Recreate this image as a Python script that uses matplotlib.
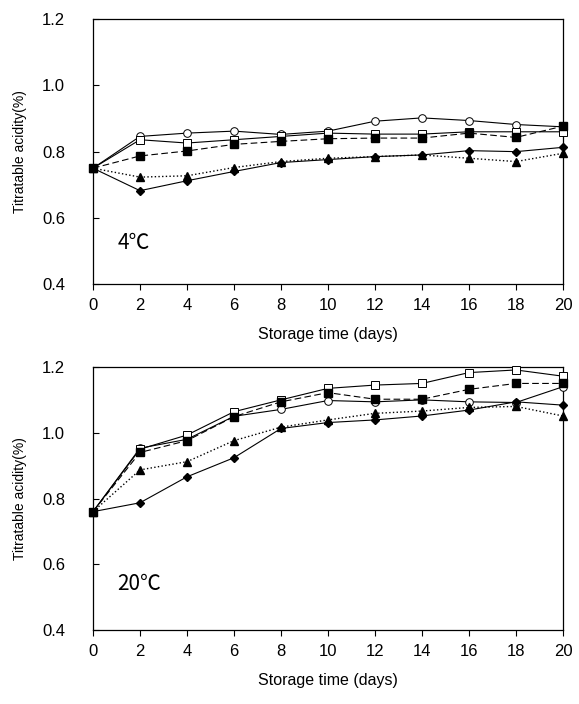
import matplotlib
matplotlib.use("Agg")
import matplotlib.pyplot as plt

days = [0, 2, 4, 6, 8, 10, 12, 14, 16, 18, 20]

# 4 °C
t4_circle = [0.75, 0.846, 0.856, 0.862, 0.852, 0.862, 0.892, 0.902, 0.894, 0.882, 0.875]
t4_osquare = [0.75, 0.836, 0.826, 0.836, 0.846, 0.856, 0.853, 0.853, 0.860, 0.860, 0.860]
t4_fsquare = [0.75, 0.787, 0.802, 0.822, 0.831, 0.839, 0.841, 0.841, 0.856, 0.843, 0.877]
t4_triangle = [0.75, 0.723, 0.727, 0.752, 0.770, 0.780, 0.785, 0.790, 0.780, 0.770, 0.795]
t4_diamond = [0.75, 0.682, 0.712, 0.740, 0.767, 0.776, 0.785, 0.790, 0.803, 0.800, 0.813]

# 20 °C
t20_circle = [0.76, 0.953, 0.980, 1.050, 1.071, 1.098, 1.094, 1.100, 1.094, 1.092, 1.140]
t20_osquare = [0.76, 0.950, 0.993, 1.064, 1.100, 1.135, 1.145, 1.150, 1.183, 1.191, 1.172]
t20_fsquare = [0.76, 0.940, 0.976, 1.049, 1.094, 1.122, 1.102, 1.102, 1.132, 1.150, 1.150]
t20_triangle = [0.76, 0.887, 0.912, 0.976, 1.017, 1.039, 1.059, 1.066, 1.077, 1.080, 1.051]
t20_diamond = [0.76, 0.787, 0.866, 0.924, 1.013, 1.031, 1.039, 1.051, 1.069, 1.094, 1.084]

yticks = [0.4, 0.6, 0.8, 1.0, 1.2]
xticks = list(range(0, 21, 2))
panel_labels = ["4\u2103", "20\u2103"]

plt.rcParams['font.family'] = ['Liberation Sans', 'DejaVu Sans']

fig = plt.figure(figsize=(5.79, 7.04), dpi=100)
ax1 = fig.add_axes([0.1606, 0.5966, 0.8117, 0.3760])
ax2 = fig.add_axes([0.1606, 0.1051, 0.8117, 0.3736])

lw = 0.8
ms = 5.5

def draw(ax, circ, osq, fsq, tri, dia, label, label_y):
    ax.plot(days, circ, '-', color='black', lw=lw, marker='o', ms=ms,
            mfc='white', mec='black', mew=0.7, clip_on=False, zorder=3)
    ax.plot(days, osq, '-', color='black', lw=lw, marker='s', ms=ms,
            mfc='white', mec='black', mew=0.7, clip_on=False, zorder=3)
    ax.plot(days, tri, ':', color='black', lw=1.0, marker='^', ms=ms + 0.5,
            mfc='black', mec='black', clip_on=False, zorder=3)
    ax.plot(days, dia, '-', color='black', lw=lw, marker='D', ms=ms - 1,
            mfc='black', mec='black', clip_on=False, zorder=3)
    ax.plot(days, fsq, '--', color='black', lw=lw, marker='s', ms=ms,
            mfc='black', mec='black', dashes=(6, 3), clip_on=False, zorder=4)
    ax.set_xlim(0, 20)
    ax.set_ylim(0.4, 1.2)
    ax.set_xticks(xticks)
    ax.set_yticks(yticks)
    ax.set_yticklabels([f"{v:.1f}" for v in yticks], fontsize=12)
    ax.set_xticklabels([str(v) for v in xticks], fontsize=12)
    ax.tick_params(axis='y', direction='in', length=4, width=0.8, pad=20)
    ax.tick_params(axis='x', direction='out', length=4, width=0.8, pad=6)
    for s in ax.spines.values():
        s.set_linewidth(0.9)
    ax.set_ylabel("Titratable acidity(%)", fontsize=10)
    ax.yaxis.set_label_coords(-0.14, 0.5)
    ax.set_xlabel("Storage time (days)", fontsize=11.5, labelpad=10)
    ax.text(1.05, label_y, label, fontsize=15, va='center', ha='left',
            family=['Noto Sans CJK KR', 'DejaVu Sans'])

draw(ax1, t4_circle, t4_osquare, t4_fsquare, t4_triangle, t4_diamond, panel_labels[0], 0.525)
draw(ax2, t20_circle, t20_osquare, t20_fsquare, t20_triangle, t20_diamond, panel_labels[1], 0.54)

fig.savefig("out.png", dpi=100)
